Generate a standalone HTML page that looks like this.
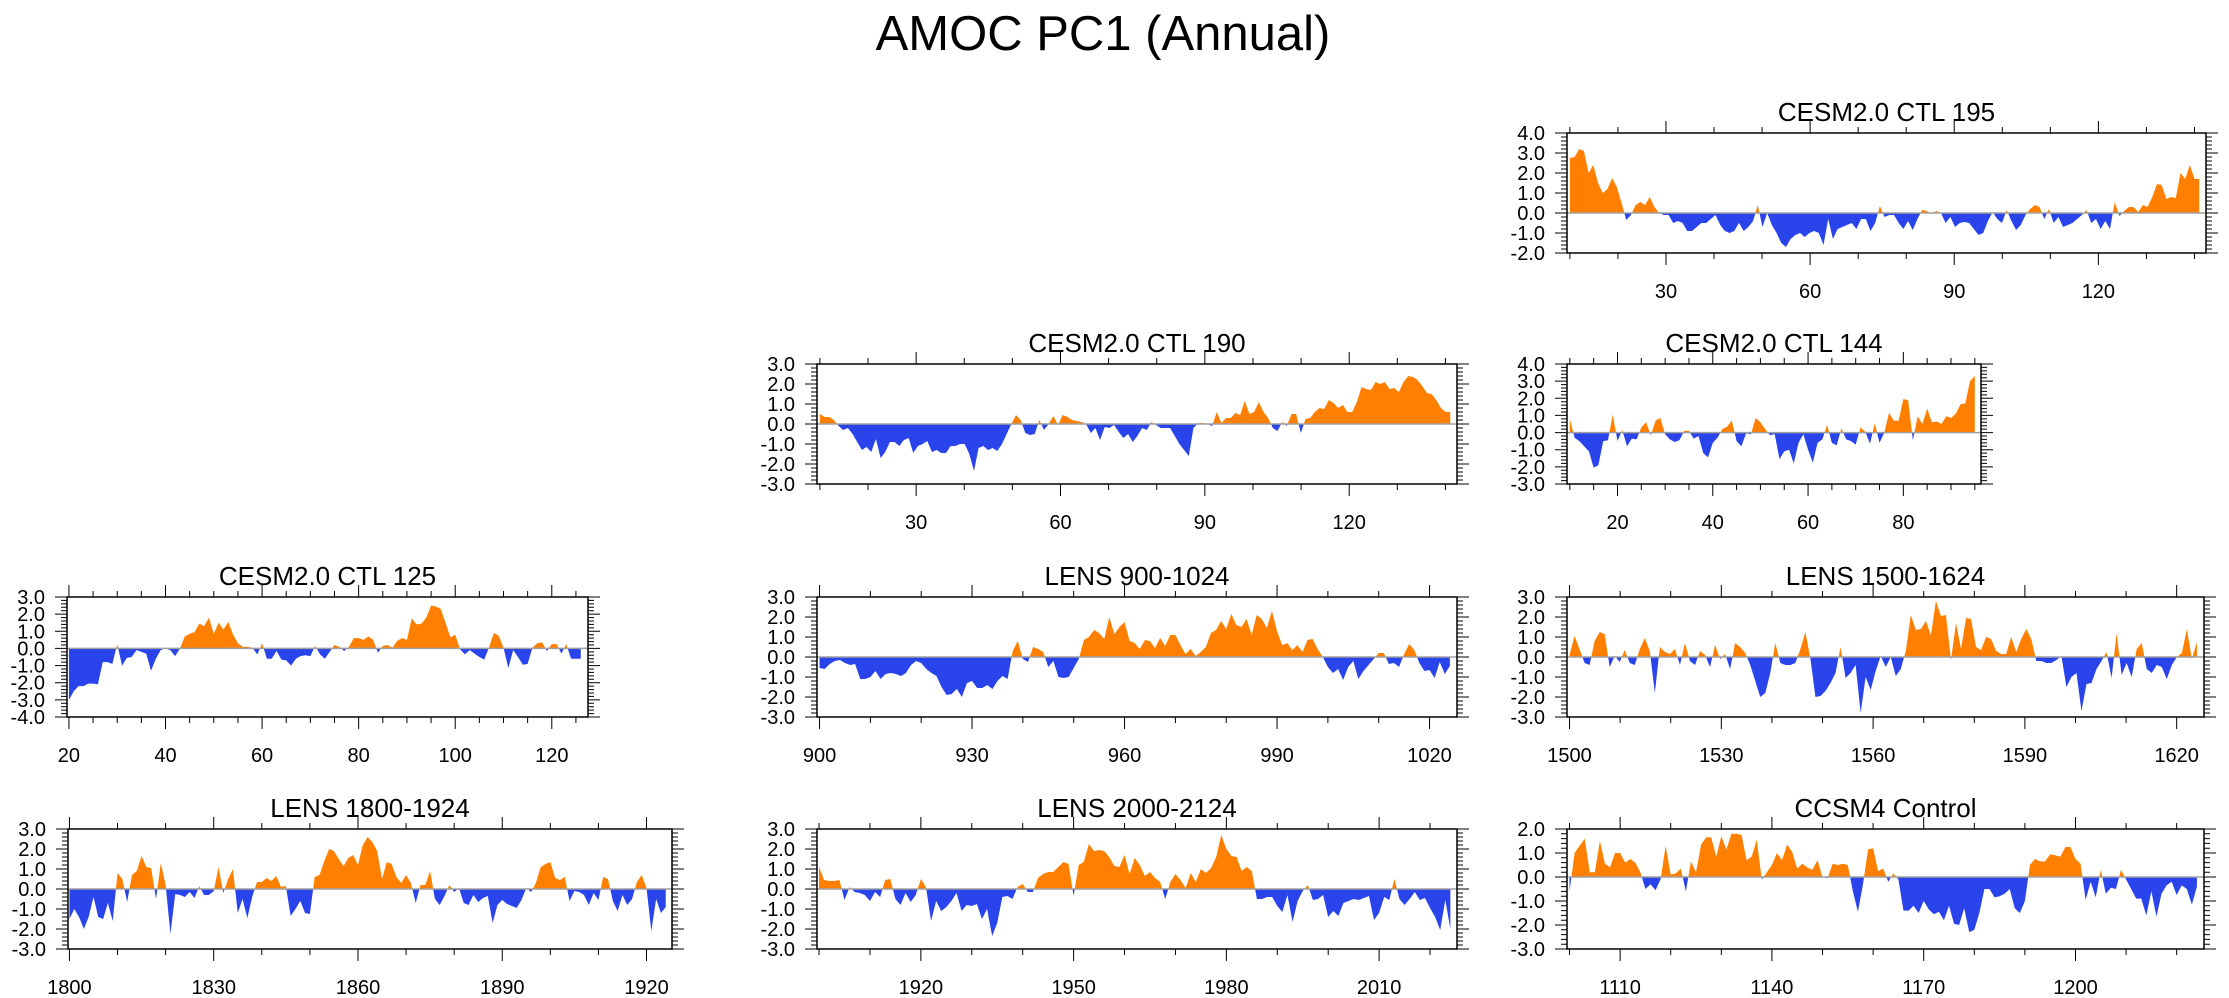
<!DOCTYPE html>
<html><head><meta charset="utf-8"><title>AMOC PC1 (Annual)</title>
<style>
html,body{margin:0;padding:0;background:#fff;}
svg{display:block;font-family:"Liberation Sans",Arial,sans-serif;}
</style></head>
<body>
<svg id="fig" width="2229" height="998" viewBox="0 0 2229 998" xmlns="http://www.w3.org/2000/svg">
<rect x="0" y="0" width="2229" height="998" fill="#fff"/>
<text x="1103" y="50" font-size="49" text-anchor="middle" fill="#000">AMOC PC1 (Annual)</text>
</svg>
<script>
// ---- data ----
const ctl195Years = [10, 141];
const ctl195Values = [2.75,2.8,3.2,3.1,2.0,2.4,1.5,1.0,1.2,1.75,1.3,0.5,-0.35,-0.1,0.4,0.55,0.4,0.8,0.3,0,-0.1,-0.1,-0.5,-0.4,-0.5,-0.9,-0.9,-0.7,-0.5,-0.5,-0.3,-0.1,-0.6,-0.9,-1.0,-0.9,-0.5,-0.9,-0.7,-0.4,0.4,-0.7,0,-0.6,-1.0,-1.5,-1.7,-1.3,-1.1,-1.0,-1.2,-1.0,-0.9,-1.0,-1.6,-0.3,-1.3,-0.8,-0.7,-0.6,-0.5,-0.8,-0.3,-0.3,-0.9,-0.5,0.35,-0.2,-0.1,-0.1,-0.5,-0.8,-0.4,-0.85,-0.3,0.15,0.1,-0.05,0.1,0,-0.5,-0.2,-0.7,-0.5,-0.45,-0.5,-0.8,-1.1,-1.0,-0.4,0.05,-0.3,-0.5,0.15,-0.4,-0.85,-0.6,-0.1,0.2,0.4,0.3,-0.3,0.2,-0.5,-0.2,-0.7,-0.6,-0.5,-0.3,-0.1,0.15,-0.5,-0.3,-0.8,-0.4,-0.8,0.55,-0.15,0.1,0.3,0.3,0.05,0.4,0.3,0.8,1.45,1.4,0.7,0.8,0.75,2.0,1.7,2.4,1.7,1.7];
const ctl195Ticks = [30, 60, 90, 120];

const ctl190Years = [10, 141];
const ctl190Values = [0.5,0.35,0.35,0.2,-0.1,-0.3,-0.2,-0.5,-0.9,-1.3,-1.15,-1.4,-0.75,-1.7,-1.4,-0.9,-0.9,-1.1,-0.8,-0.7,-1.45,-1.1,-1.0,-0.85,-1.4,-1.3,-1.45,-1.45,-1.1,-1.1,-1.0,-1.0,-1.5,-2.35,-1.2,-1.1,-1.3,-1.2,-1.35,-1.0,-0.5,0,0.45,0.2,-0.45,-0.55,-0.5,0.2,-0.3,0,0.4,-0.05,0.45,0.35,0.2,0.15,0.1,0,-0.45,-0.2,-0.8,-0.15,-0.2,-0.05,-0.4,-0.7,-0.5,-0.9,-0.6,-0.2,-0.3,0.1,-0.05,-0.2,-0.2,-0.2,-0.6,-1.0,-1.3,-1.6,-0.2,0.05,0.05,0.0,-0.1,0.6,0.05,0.3,0.3,0.55,0.45,1.15,0.5,0.6,1.1,0.6,0.3,-0.2,-0.35,0.1,-0.1,0.5,0.5,-0.45,0.25,0.3,0.6,0.8,0.75,1.2,1.05,0.8,0.95,0.6,0.6,1.1,1.85,1.75,1.7,2.1,2.0,2.1,1.75,1.8,1.6,2.1,2.4,2.35,2.2,1.9,1.55,1.5,1.2,0.8,0.6,0.6];
const ctl190Ticks = [30, 60, 90, 120];

const ctl144Years = [10, 95];
const ctl144Values = [0.8,-0.3,-0.5,-0.8,-1.1,-2.05,-1.9,-0.5,-0.45,1.05,-0.5,0.15,-0.8,-0.35,-0.4,0.3,0.6,-0.15,0.7,0.85,-0.1,-0.4,-0.55,-0.45,0.1,0.1,-0.35,-0.2,-1.2,-1.45,-0.6,-0.3,0.2,0.35,0.7,-0.5,-0.8,-0.05,-0.1,0.85,0.6,0.2,-0.15,-0.1,-1.55,-1.1,-1.0,-1.8,-0.6,-0.1,-1.0,-1.75,-0.6,-0.4,0.45,-0.6,-0.75,0.25,-0.4,-0.5,-0.7,0.3,0.05,-0.65,0.55,-0.6,0,1.15,0.7,0.7,1.95,1.9,-0.45,0.95,0.5,1.4,0.6,0.65,0.5,0.95,0.85,1.1,1.65,1.7,3.0,3.3];
const ctl144Ticks = [20, 40, 60, 80];

const ctl125Years = [20, 126];
const ctl125Values = [-3.0,-2.5,-2.2,-2.2,-2.05,-2.05,-2.1,-0.8,-0.8,-0.9,0.25,-1.0,-0.55,-0.5,-0.1,-0.2,-0.3,-1.3,-0.6,-0.1,0,-0.1,-0.45,0,0.7,0.85,0.95,1.45,1.3,1.8,0.85,1.5,1.1,1.55,0.8,0.3,0.1,0.1,0.05,-0.35,0.3,-0.6,-0.6,-0.15,-0.65,-0.7,-1.0,-0.6,-0.45,-0.4,-0.45,0.15,-0.35,-0.6,-0.2,0.2,0.1,-0.15,0.1,0.6,0.6,0.5,0.7,0.5,-0.25,0.15,0.2,0.05,0.45,0.6,0.5,1.75,1.4,1.45,1.8,2.5,2.45,2.3,1.5,0.65,0.8,-0.05,-0.35,-0.1,-0.3,-0.5,-0.65,0.05,0.9,0.75,0.05,-1.15,-0.1,-0.5,-0.95,-0.9,0.05,0.3,0.35,-0.15,0.25,0.25,-0.3,0.25,-0.6,-0.6,-0.6];
const ctl125Ticks = [20, 40, 60, 80, 100, 120];

const lens900Years = [900, 1024];
const lens900Values = [-0.55,-0.6,-0.35,-0.2,-0.15,-0.3,-0.4,-0.35,-1.1,-1.1,-1.0,-0.7,-1.1,-0.85,-0.8,-0.85,-0.95,-0.8,-0.4,-0.2,-0.3,-0.6,-0.8,-0.95,-1.5,-1.9,-1.85,-1.6,-2.0,-1.3,-1.2,-1.55,-1.55,-1.4,-1.6,-1.2,-0.95,-1.1,0.3,0.8,-0.1,-0.25,0.5,0.4,0.25,-0.5,-0.2,-1.0,-1.05,-1.0,-0.55,-0.1,0.85,1.0,1.35,1.2,0.9,2.0,1.15,1.5,1.75,0.8,0.7,0.4,0.85,0.8,0.45,0.95,0.55,1.1,1.1,0.6,0.15,0.4,0.05,0.25,0.5,1.2,1.35,1.8,1.4,2.15,1.6,1.5,1.9,1.1,2.1,1.9,1.45,2.3,1.3,0.6,0.7,0.35,0.6,0.25,0.85,0.9,0.4,0,-0.5,-0.8,-0.6,-1.15,-0.5,-0.2,-1.1,-0.7,-0.4,-0.1,0.2,0.2,-0.35,-0.3,-0.5,0.15,0.65,0.35,-0.3,-0.7,-0.65,-1.05,-0.25,-0.85,-0.45];
const lens900Ticks = [900, 930, 960, 990, 1020];

const lens1500Years = [1500, 1624];
const lens1500Values = [0.1,1.05,0.4,-0.3,-0.4,0.8,1.25,1.15,-0.5,0.05,-0.25,0.35,-0.3,-0.4,0.4,0.95,0.3,-1.8,0.5,0.25,0.15,0.4,-0.4,0.7,-0.2,-0.4,0.3,0.1,-0.5,0.6,-0.1,0.15,-0.6,0.7,0.5,0.2,-0.4,-1.2,-2.0,-1.8,-0.8,0.7,-0.3,-0.4,-0.4,-0.3,0.4,1.25,-0.1,-2.0,-1.95,-1.7,-1.3,-0.8,0.5,-1.05,-0.8,-0.4,-2.8,-1.0,-1.65,-0.7,0.05,-0.5,0.0,-0.95,-0.6,0.3,2.1,1.35,1.4,1.8,1.1,2.8,2.05,2.1,-0.15,1.7,0.4,1.95,1.9,0.5,0.35,1.0,0.9,0.3,0.15,0.15,1.0,0.25,0.9,1.4,0.9,-0.2,-0.2,-0.3,-0.3,-0.15,0.05,-1.5,-1.0,-0.8,-2.7,-1.35,-1.3,-0.6,-0.2,0.25,-1.05,1.2,-0.9,-0.3,-1.0,0.4,0.7,-0.6,-0.8,-0.4,-0.5,-1.1,-0.4,0,0.2,1.4,-0.1,0.75];
const lens1500Ticks = [1500, 1530, 1560, 1590, 1620];

const lens1800Years = [1800, 1924];
const lens1800Values = [-1.5,-1.0,-1.4,-2.0,-1.4,-0.4,-1.4,-1.5,-0.7,-1.6,0.8,0.5,-0.65,0.7,0.9,1.65,1.1,1.05,-0.5,1.3,0.2,-2.25,-0.25,-0.3,-0.4,-0.15,-0.45,0.15,-0.3,-0.3,-0.1,1.1,-0.2,0.5,1.0,-1.2,-0.5,-1.45,-0.4,0.35,0.35,0.55,0.4,0.65,0.1,0.15,-1.35,-1.0,-0.6,-1.2,-1.25,0.6,0.7,1.4,2.0,1.9,1.5,1.15,1.55,1.7,1.2,2.2,2.6,2.35,1.9,0.5,1.35,1.25,0.6,0.3,0.7,0.3,-0.7,0.2,0.2,0.9,-0.5,-0.8,-0.35,0.2,-0.15,0.05,-0.7,-0.8,-0.3,-0.65,-0.45,-0.35,-1.7,-0.8,-0.55,-0.75,-0.85,-0.95,-0.55,0.05,-0.15,0.3,1.1,1.25,1.35,0.55,0.45,0.6,-0.6,-0.1,-0.15,-0.3,-0.8,-0.2,-0.55,0.6,0.5,-0.6,-1.1,-0.3,-0.8,-0.5,0.35,0.7,0.05,-2.1,-0.5,-1.2,-0.9];
const lens1800Ticks = [1800, 1830, 1860, 1890, 1920];

const lens2000Years = [1900, 2024];
const lens2000Values = [1.1,0.45,0.4,0.4,0.45,-0.55,0.1,-0.15,-0.2,-0.3,-0.6,-0.15,-0.4,0.45,0.5,-0.5,-0.8,-0.2,-0.65,-0.3,0.5,0.1,-1.6,-0.6,-1.1,-0.9,-0.6,-0.2,-1.1,-0.8,-0.85,-0.75,-1.5,-1.0,-2.35,-1.7,-0.4,-0.35,-0.5,0.1,0.25,-0.15,-0.15,0.55,0.75,0.85,0.85,1.1,1.35,1.25,-0.35,1.2,1.35,2.25,1.9,1.95,1.9,1.6,1.15,1.1,1.7,0.75,1.55,1.2,0.65,0.85,0.55,0.35,-0.5,0.35,0.75,0.45,0.05,0.8,0.35,1.0,0.8,1.05,1.6,2.7,2.0,1.65,1.6,0.9,1.1,0.9,-0.5,-0.5,-0.4,-0.4,-0.85,-1.15,-0.3,-1.65,-0.6,-0.1,0.2,-0.55,-0.5,-0.3,-1.4,-1.1,-1.35,-0.7,-0.6,-0.5,-0.55,-0.45,-0.35,-1.55,-1.2,-0.4,-0.55,0.5,-0.5,-0.8,-0.5,-0.15,-0.55,-0.45,-0.95,-1.4,-2.05,-0.55,-2.0];
const lens2000Ticks = [1920, 1950, 1980, 2010];

const ccsm4Years = [1100, 1224];
const ccsm4Values = [-0.6,1.0,1.3,1.6,0.2,0.2,1.5,0.55,0.4,1.0,1.0,0.6,0.75,0.6,0.2,-0.5,-0.3,-0.55,-0.1,1.3,0.1,0.15,0.35,-0.6,0.65,0.2,1.35,1.65,1.65,0.85,1.7,1.15,1.8,1.8,1.75,0.7,0.85,1.55,-0.1,0.2,0.5,1.0,0.7,1.35,1.05,0.35,0.55,0.4,0.3,0.7,0,-0.05,0.55,0.5,0.55,0.5,-0.6,-1.45,-0.3,1.15,1.2,0.25,0.35,-0.2,0.15,-0.1,-1.4,-1.4,-1.2,-1.5,-1.0,-1.35,-1.55,-1.45,-1.8,-1.2,-1.95,-2.0,-1.3,-2.3,-2.2,-1.5,-0.5,-0.5,-0.85,-0.8,-0.7,-0.5,-1.3,-1.5,-1.0,0.5,0.75,0.65,0.65,0.95,0.9,0.85,1.25,1.25,0.75,0.55,-0.95,-0.2,-0.85,0.3,-0.7,-0.45,-0.5,0.3,-0.1,-0.5,-0.9,-0.9,-1.6,-0.6,-1.65,-0.7,-0.35,-0.2,-0.75,-0.35,-0.5,-1.15,-0.4];
const ccsm4Ticks = [1110, 1140, 1170, 1200];

// ---- layout ----
const panels = [
 {id:'ctl195', title:'CESM2.0 CTL 195', L:1567,R:2206,T:133,B:253, x0:9.4,x1:142.4, y0:-2,y1:4, minor:10, yrs:ctl195Years, vals:ctl195Values, ticks:ctl195Ticks},
 {id:'ctl190', title:'CESM2.0 CTL 190', L:817,R:1457,T:364,B:484, x0:9.4,x1:142.4, y0:-3,y1:3, minor:10, yrs:ctl190Years, vals:ctl190Values, ticks:ctl190Ticks},
 {id:'ctl144', title:'CESM2.0 CTL 144', L:1567,R:1981,T:364,B:484, x0:9.4,x1:96.3, y0:-3,y1:4, minor:5, yrs:ctl144Years, vals:ctl144Values, ticks:ctl144Ticks},
 {id:'ctl125', title:'CESM2.0 CTL 125', L:67,R:588,T:597,B:717, x0:19.6,x1:127.5, y0:-4,y1:3, minor:5, yrs:ctl125Years, vals:ctl125Values, ticks:ctl125Ticks},
 {id:'lens900', title:'LENS 900-1024', L:817,R:1457,T:597,B:717, x0:899.5,x1:1025.4, y0:-3,y1:3, minor:10, yrs:lens900Years, vals:lens900Values, ticks:lens900Ticks},
 {id:'lens1500', title:'LENS 1500-1624', L:1567,R:2204,T:597,B:717, x0:1499.5,x1:1625.4, y0:-3,y1:3, minor:10, yrs:lens1500Years, vals:lens1500Values, ticks:lens1500Ticks},
 {id:'lens1800', title:'LENS 1800-1924', L:68,R:672,T:829,B:949, x0:1799.7,x1:1925.3, y0:-3,y1:3, minor:10, yrs:lens1800Years, vals:lens1800Values, ticks:lens1800Ticks},
 {id:'lens2000', title:'LENS 2000-2124', L:817,R:1457,T:829,B:949, x0:1899.6,x1:2025.3, y0:-3,y1:3, minor:10, yrs:lens2000Years, vals:lens2000Values, ticks:lens2000Ticks},
 {id:'ccsm4', title:'CCSM4 Control', L:1567,R:2204,T:829,B:949, x0:1099.5,x1:1225.4, y0:-3,y1:2, minor:10, yrs:ccsm4Years, vals:ccsm4Values, ticks:ccsm4Ticks}
];

const NS = 'http://www.w3.org/2000/svg';
const svg = document.getElementById('fig');
function mk(tag, attrs, parent){
  const e = document.createElementNS(NS, tag);
  for (const k in attrs) e.setAttribute(k, attrs[k]);
  (parent||svg).appendChild(e);
  return e;
}
const ORANGE = '#ff8000', BLUE = '#2a44ec';

panels.forEach(function(p){
  const g = mk('g', {});
  
  
  const xs = function(v){ return p.L + (v - p.x0) / (p.x1 - p.x0) * (p.R - p.L); };
  const ys = function(v){ return p.B - (v - p.y0) / (p.y1 - p.y0) * (p.B - p.T); };
  const n = p.vals.length;
  const yearOf = function(i){ return p.yrs[0] + i * (p.yrs[1] - p.yrs[0]) / (n - 1); };

  const defs = mk('defs', {}, g);
  const cpA = mk('clipPath', {id:'above-' + p.id}, defs);
  mk('rect', {x:p.L, y:p.T, width:p.R-p.L, height:ys(0)-p.T}, cpA);
  const cpB = mk('clipPath', {id:'below-' + p.id}, defs);
  mk('rect', {x:p.L, y:ys(0), width:p.R-p.L, height:p.B-ys(0)}, cpB);

  let d = 'M' + xs(yearOf(0)).toFixed(2) + ',' + ys(0).toFixed(2);
  for (let i = 0; i < n; i++) d += 'L' + xs(yearOf(i)).toFixed(2) + ',' + ys(p.vals[i]).toFixed(2);
  d += 'L' + xs(yearOf(n-1)).toFixed(2) + ',' + ys(0).toFixed(2) + 'Z';

  const pos = mk('path', {d:d, fill:ORANGE, 'clip-path':'url(#above-' + p.id + ')'}, g);
  
  
  const neg = mk('path', {d:d, fill:BLUE, 'clip-path':'url(#below-' + p.id + ')'}, g);
  
  

  const zl = mk('line', {x1:p.L, x2:p.R, y1:ys(0), y2:ys(0), stroke:'#a0a0a0', 'stroke-width':1.5}, g);
  
  

  const frame = mk('rect', {x:p.L, y:p.T, width:p.R-p.L, height:p.B-p.T, fill:'none', stroke:'#000', 'stroke-width':1.5}, g);
  
  

  let tp = '';
  const first = Math.ceil(p.x0 / p.minor) * p.minor;
  for (let v = first; v <= p.x1; v += p.minor) {
    const x = xs(v).toFixed(2);
    const major = p.ticks.indexOf(v) >= 0;
    const len = major ? 12 : 6;
    tp += 'M' + x + ',' + p.B + 'v' + len + 'M' + x + ',' + p.T + 'v' + (-len);
  }
  for (let k = Math.round(p.y0 * 5); k <= Math.round(p.y1 * 5); k++) {
    const v = k / 5, y = ys(v).toFixed(2);
    const len = (k % 5 === 0) ? 12 : 6;
    tp += 'M' + p.L + ',' + y + 'h' + (-len) + 'M' + p.R + ',' + y + 'h' + len;
  }
  const ticks = mk('path', {d:tp, stroke:'#000', 'stroke-width':1, fill:'none'}, g);
  
  

  p.ticks.forEach(function(v){
    const t = mk('text', {x:xs(v), y:p.B + 45, 'font-size':20, 'text-anchor':'middle'}, g);
    t.textContent = String(v);
    
    
  });
  for (let v = p.y0; v <= p.y1; v += 1) {
    const t = mk('text', {x:p.L - 22, y:ys(v) + 7, 'font-size':20, 'text-anchor':'end'}, g);
    t.textContent = v.toFixed(1);
    
    
  }
  const tt = mk('text', {x:(p.L + p.R)/2, y:p.T - 12, 'font-size':26, 'text-anchor':'middle'}, g);
  tt.textContent = p.title;
  
  
});
</script>
</body></html>
